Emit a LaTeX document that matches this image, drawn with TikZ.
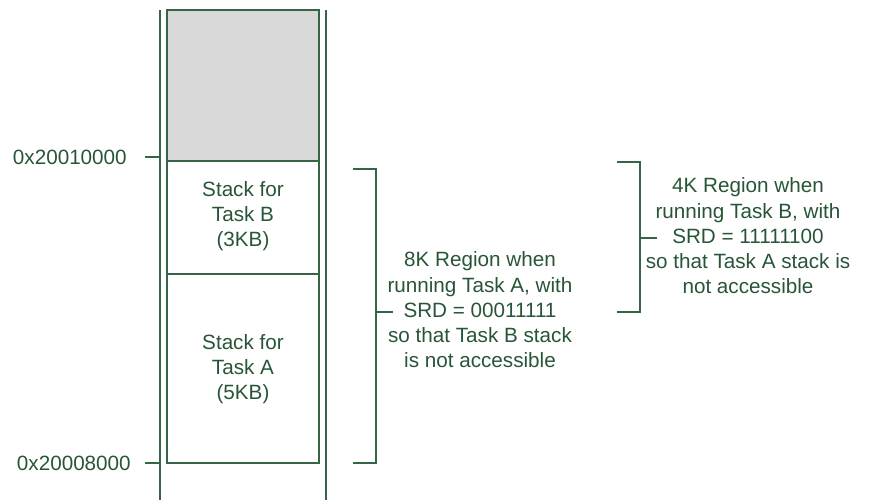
\documentclass[tikz,border=0pt]{standalone}
\usepackage{fontspec}
\setmainfont{Liberation Sans}
\usetikzlibrary{positioning}
\definecolor{memgreen}{RGB}{40,85,55}
\definecolor{linegreen}{RGB}{55,100,70}
\definecolor{freegray}{RGB}{217,217,217}
\tikzset{
  memline/.style={draw=linegreen,line width=0.9pt},
  memtext/.style={text=memgreen,align=center,font=\fontsize{15.5}{18.9}\selectfont,inner sep=0pt},
}

\begin{document}
\begin{tikzpicture}[x=0.75pt,y=-0.75pt]
  \useasboundingbox (0,0) rectangle (882,500);
  % outer rails of the memory map
  \draw[memline] (160,10) -- (160,500);
  \draw[memline] (326,10) -- (326,500);
  % stack blocks
  \draw[memline,fill=freegray] (167,10) rectangle (319,161);
  \draw[memline] (167,161) rectangle (319,274);
  \draw[memline] (167,274) rectangle (319,463);
  \node[memtext] (stackb) at (243,216) {Stack for\\Task B\\(3KB)};
  \node[memtext] (stacka) at (243,369) {Stack for\\Task A\\(5KB)};
  % addresses
  \node[memtext,anchor=east] (addrhi) at (127,157) {0x20010000};
  \node[memtext,anchor=east] (addrlo) at (131,463) {0x20008000};
  \draw[memline] (145,157) -- (160,157);
  \draw[memline] (145,463) -- (160,463);
  % region brackets
  \coordinate (rega) at (393,312);
  \coordinate (regb) at (657,238);
  \draw[memline] (353,169) -- (376,169) -- (376,463) -- (353,463);
  \draw[memline] (376,312) -- (rega);
  \draw[memline] (617,162) -- (640,162) -- (640,312) -- (617,312);
  \draw[memline] (640,238) -- (regb);
  \node[memtext] (texta) at (480,310) {8K Region when\\running Task A, with\\SRD = 00011111\\so that Task B stack\\is not accessible};
  \node[memtext] (textb) at (748,236) {4K Region when\\running Task B, with\\SRD = 11111100\\so that Task A stack is\\not accessible};
\end{tikzpicture}
\end{document}
